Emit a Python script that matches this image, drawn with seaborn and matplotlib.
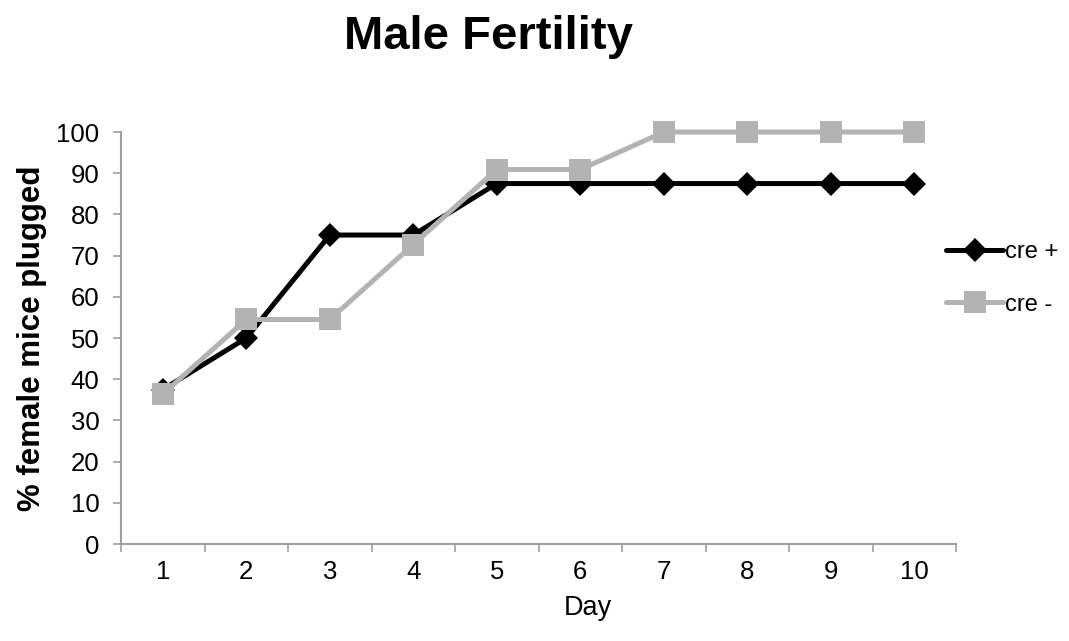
import pandas as pd
import numpy as np
import matplotlib.pyplot as plt
import seaborn as sns

# Data (percent of females plugged by day)
days = [1, 2, 3, 4, 5, 6, 7, 8, 9, 10]
cre_pos = [37.5, 50, 75, 75, 87.5, 87.5, 87.5, 87.5, 87.5, 87.5]
cre_neg = [36.4, 54.5, 54.5, 72.7, 90.9, 90.9, 100, 100, 100, 100]
series_names = ["cre +", "cre -"]

df = pd.DataFrame({
    "Day": days * 2,
    "pct": cre_pos + cre_neg,
    "group": [series_names[0]] * len(days) + [series_names[1]] * len(days),
})

sns.set_style("white")
plt.rcParams['font.family'] = ['Liberation Sans', 'DejaVu Sans']
plt.rcParams['text.color'] = 'black'
plt.rcParams['axes.labelcolor'] = 'black'
plt.rcParams['xtick.color'] = 'black'
plt.rcParams['ytick.color'] = 'black'

fig = plt.figure(figsize=(10.69, 6.41), dpi=100)
ax = fig.add_axes([0.1132, 0.1513, 0.7811, 0.6427])

sns.lineplot(data=df, x="Day", y="pct", hue="group", style="group",
             palette={"cre +": "black", "cre -": "#b3b3b3"},
             markers={"cre +": "D", "cre -": "s"}, dashes=False,
             linewidth=3.6, markersize=12, markeredgewidth=0, ax=ax)
# larger squares for cre -, and let markers at 100 show fully
for line in ax.lines:
    line.set_clip_on(False)
    if line.get_marker() == "s":
        line.set_markersize(15.5)

ax.set_xlim(0.5, 10.5)
ax.set_ylim(0, 100)
ax.set_yticks(range(0, 101, 10))
ax.set_xticks(days)
ax.set_xticks(np.arange(0.5, 11, 1), minor=True)
ax.tick_params(axis="x", which="major", length=0, pad=11.5, labelsize=18.5)
ax.tick_params(axis="x", which="minor", length=5.5, width=1.2, color="#a0a0a0", direction="out", bottom=True)
ax.tick_params(axis="y", length=5.5, width=1.2, color="#a0a0a0", labelcolor="black",
               direction="out", left=True, labelsize=18.5, pad=10)

for side in ["top", "right"]:
    ax.spines[side].set_visible(False)
for side in ["left", "bottom"]:
    ax.spines[side].set_color("#a0a0a0")
    ax.spines[side].set_linewidth(1.5)

ax.set_xlabel("Day", fontsize=19.5, labelpad=8)
ax.xaxis.label.set_x(0.559)
ax.set_ylabel("% female mice plugged", fontsize=22.5, fontweight="bold", labelpad=7)
fig.text(0.457, 0.942, "Male Fertility", ha="center", va="center", fontsize=34, fontweight="bold")

leg = ax.legend(loc="center left", bbox_to_anchor=(0.963, 0.645), frameon=False,
                fontsize=17, handlelength=2.4, handletextpad=0.1, labelspacing=1.3)

fig.savefig("out.png", dpi=100)
